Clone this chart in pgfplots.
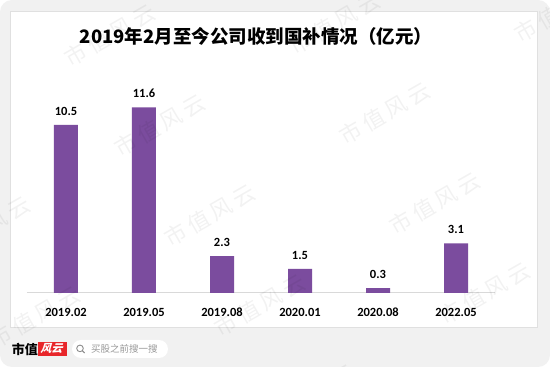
\documentclass[border=0pt]{standalone}
\usepackage{fontspec}
\usepackage{pgfplots}
\pgfplotsset{compat=1.18}
\setmainfont{Carlito}
\newfontfamily\cjk{Noto Sans CJK SC}
\definecolor{barc}{HTML}{7B4C9E}
\definecolor{bggray}{HTML}{F1F1F1}
\definecolor{axisgray}{HTML}{D9D9D9}
\definecolor{logored}{HTML}{E8262A}
\begin{document}
\begin{tikzpicture}[x=1pt,y=1pt]
\useasboundingbox (0,0) rectangle (550,367);
\fill[white] (0,0) rectangle (550,367);
\fill[bggray, rounded corners=12pt] (0,0) rectangle (550,367);
\fill[white] (10,40) rectangle (537,356);
\draw[black!12, line width=0.8pt] (10,40) rectangle (537,356);
\node[font=\cjk\bfseries\fontsize{18.5}{20}\selectfont, text=black] at (256,331) {2019年2月至今公司收到国补情况（亿元）};
\begin{axis}[
  at={(27pt,74pt)}, anchor=south west, scale only axis,
  width=468pt, height=224pt,
  xmin=-0.5, xmax=5.5, ymin=0, ymax=14,
  axis x line=bottom, axis y line=none,
  x axis line style={-, draw=axisgray, line width=1pt},
  xtick={0,1,2,3,4,5},
  xticklabels={2019.02,2019.05,2019.08,2020.01,2020.08,2022.05},
  major tick length=0pt,
  xticklabel style={font=\bfseries\fontsize{12.5}{14}\selectfont, anchor=base, yshift=-23.5pt, text=black},
  ybar, bar width=24pt,
  nodes near coords, point meta=explicit symbolic,
  nodes near coords style={font=\bfseries\fontsize{12.5}{14}\selectfont, anchor=base, yshift=9.5pt, text=black},
  clip=false,
]
\addplot[fill=barc, draw=none] coordinates {
  (0,10.5) [10.5]
  (1,11.6) [11.6]
  (2,2.3) [2.3]
  (3,1.5) [1.5]
  (4,0.3) [0.3]
  (5,3.1) [3.1]
};
\end{axis}
% bottom strip
\node[font=\cjk\bfseries\fontsize{13}{14}\selectfont, text=black, inner sep=0] at (25,18) {市值};
\fill[logored] (38,11) rectangle (67,25);
\node[font=\cjk\bfseries\fontsize{11}{12}\selectfont, text=white, inner sep=0, xslant=0.3] at (52.5,18) {风云};
\fill[white, rounded corners=9pt] (72,9) rectangle (168,27);
\draw[black!45, line width=0.9pt] (80,18.6) circle (3.3pt);
\draw[black!45, line width=1pt] (82.4,16.2) -- (84.6,14);
\node[font=\cjk\fontsize{9.5}{10}\selectfont, text=black!40, anchor=west, inner sep=0] at (91,18) {买股之前搜一搜};
% watermarks
\begin{scope}
\clip[rounded corners=12pt] (0,0) rectangle (550,367);
\foreach \i in {-2,...,3} {
  \foreach \j in {-1,...,3} {
    \pgfmathsetmacro{\cx}{160+50*\i+225*\j}
    \pgfmathsetmacro{\cy}{367-(125+90*\i-12*\j)}
    \node[font=\cjk\fontsize{22}{24}\selectfont, text=black, opacity=0.05, rotate=30] at (\cx,\cy) {市\hspace{4pt}值\hspace{4pt}风\hspace{4pt}云};
  }
}
\end{scope}
\end{tikzpicture}
\end{document}
